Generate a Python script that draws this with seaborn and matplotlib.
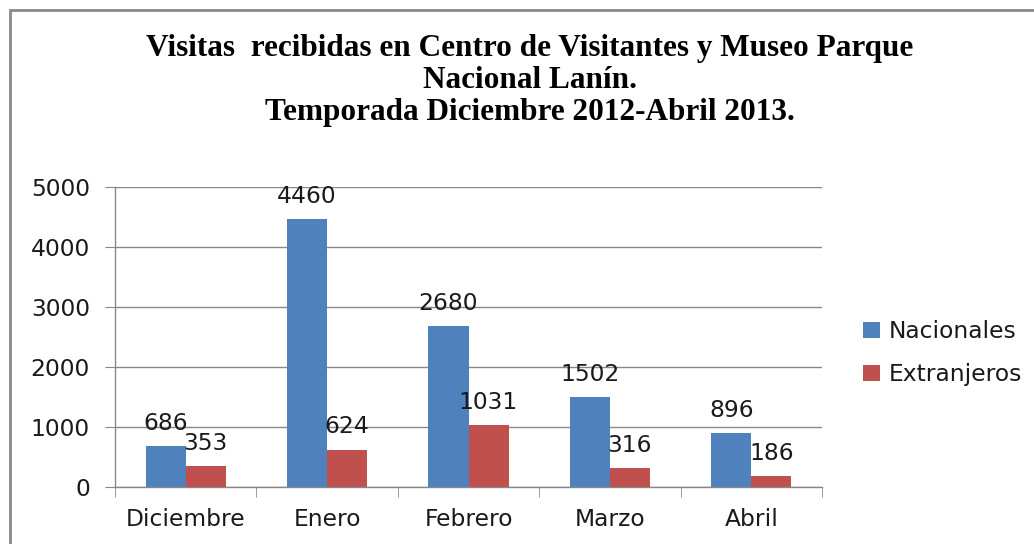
import matplotlib
matplotlib.use("Agg")
import matplotlib.pyplot as plt
import seaborn as sns
import numpy as np
import pandas as pd
from matplotlib.patches import Rectangle

# datos de la temporada
meses = ["Diciembre", "Enero", "Febrero", "Marzo", "Abril"]
nacionales = [686, 4460, 2680, 1502, 896]
extranjeros = [353, 624, 1031, 316, 186]
series = ["Nacionales", "Extranjeros"]
colores = ["#4F81BD", "#C0504D"]
yticks = [0, 1000, 2000, 3000, 4000, 5000]

titulo = ("Visitas  recibidas en Centro de Visitantes y Museo Parque\n"
          "Nacional Lanín.\n"
          "Temporada Diciembre 2012-Abril 2013.")

df = pd.DataFrame({
    "Mes": meses * 2,
    "Visitas": nacionales + extranjeros,
    "Tipo": [series[0]] * len(meses) + [series[1]] * len(meses),
})

sns.set_style("white")
plt.rcParams['font.family'] = ['DejaVu Sans']

gris = "#888888"
texto = "#1a1a1a"
fs = 16.8

fig = plt.figure(figsize=(10.34, 5.44), dpi=100)
ax = fig.add_axes([0.1112, 0.1048, 0.795 - 0.1112, 0.6562 - 0.1048])

sns.barplot(data=df, x="Mes", y="Visitas", hue="Tipo", palette=colores,
            width=0.566, saturation=1, linewidth=0, ax=ax)

for cont in ax.containers:
    ax.bar_label(cont, padding=8, fontsize=fs, color=texto)

ax.set_xlim(-0.5, len(meses) - 0.5)
ax.set_ylim(0, 5000)
ax.set_yticks(yticks)
ax.set_xlabel("")
ax.set_ylabel("")

ax.yaxis.grid(True, color=gris, linewidth=1)
ax.set_axisbelow(True)
for s in ["top", "right"]:
    ax.spines[s].set_visible(False)
for s in ["left", "bottom"]:
    ax.spines[s].set_color(gris)
    ax.spines[s].set_linewidth(1)

ax.set_xticks(np.arange(-0.5, len(meses), 1), minor=True)
ax.tick_params(axis="x", which="major", length=0, pad=15, labelsize=fs, labelcolor=texto)
ax.tick_params(axis="x", which="minor", length=7, color=gris, direction="out", bottom=True)
ax.tick_params(axis="y", length=7, color=gris, direction="out", pad=11, labelsize=fs,
               labelcolor=texto, left=True)

ax.legend(loc="center left", bbox_to_anchor=(0.835, 0.351), bbox_transform=fig.transFigure,
          frameon=False, fontsize=fs, borderpad=0, borderaxespad=0, handlelength=0.7,
          handleheight=0.7, handletextpad=0.4, labelspacing=0.85, labelcolor=texto)

fig.text(0.5126, 0.852, titulo, ha="center", va="center", fontsize=22.5,
         fontweight="bold", family="Liberation Serif", linespacing=1.13, color="black")

# marco del gráfico
fig.patches.append(Rectangle((10 / 1034, -0.1), 1.2, 1 - 10 / 544 + 0.1,
                             transform=fig.transFigure, fill=False,
                             edgecolor=gris, linewidth=2))

fig.savefig("out.png", dpi=100)
